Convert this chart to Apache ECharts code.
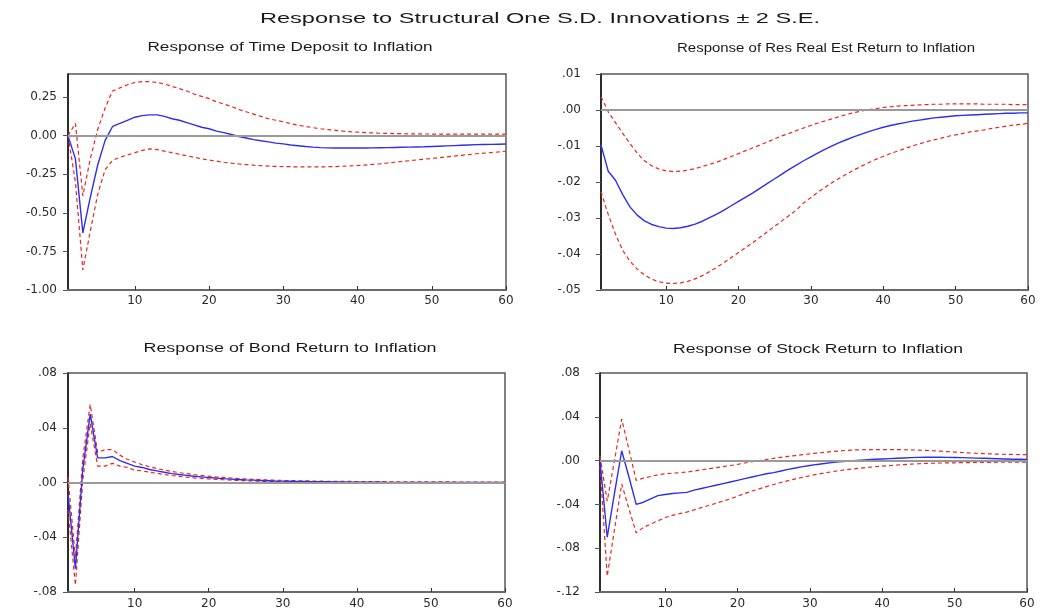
<!DOCTYPE html>
<html>
<head>
<meta charset="utf-8">
<script src="https://cdn.jsdelivr.net/npm/echarts@6/dist/echarts.min.js"></script>
<style>
  html, body { margin: 0; padding: 0; background: #ffffff; }
  #chart { width: 1054px; height: 615px; }
</style>
</head>
<body>
<div id="chart"></div>
<script>
// Impulse responses to a one S.D. inflation shock, periods 1..60, with +/- 2 S.E. bands

const periods = Array.from({ length: 60 }, (_, i) => i + 1);
const xTicks = [10, 20, 30, 40, 50, 60];

// Time Deposit
const tdResp = [0.00, -0.15, -0.63, -0.40, -0.19, -0.03, 0.06, 0.08, 0.10, 0.12,
  0.13, 0.135, 0.135, 0.125, 0.11, 0.10, 0.085, 0.07, 0.055, 0.045,
  0.03, 0.02, 0.008, -0.005, -0.015, -0.025, -0.033, -0.04, -0.048, -0.053,
  -0.06, -0.065, -0.07, -0.074, -0.077, -0.079, -0.08, -0.08, -0.08, -0.08,
  -0.08, -0.079, -0.078, -0.077, -0.076, -0.075, -0.074, -0.073, -0.072, -0.07,
  -0.068, -0.066, -0.064, -0.062, -0.06, -0.058, -0.057, -0.056, -0.055, -0.054];
const tdUpper = [0.00, 0.08, -0.39, -0.15, 0.04, 0.18, 0.29, 0.31, 0.33, 0.345,
  0.35, 0.35, 0.345, 0.335, 0.32, 0.305, 0.29, 0.27, 0.255, 0.24,
  0.22, 0.205, 0.19, 0.17, 0.155, 0.14, 0.125, 0.11, 0.10, 0.09,
  0.078, 0.068, 0.06, 0.052, 0.045, 0.04, 0.035, 0.03, 0.026, 0.023,
  0.02, 0.018, 0.016, 0.015, 0.014, 0.013, 0.012, 0.012, 0.011, 0.011,
  0.01, 0.01, 0.01, 0.01, 0.01, 0.01, 0.01, 0.01, 0.01, 0.01];
const tdLower = [0.00, -0.30, -0.87, -0.62, -0.38, -0.22, -0.16, -0.14, -0.125, -0.11,
  -0.095, -0.085, -0.09, -0.10, -0.11, -0.12, -0.13, -0.14, -0.15, -0.158,
  -0.165, -0.172, -0.178, -0.183, -0.187, -0.191, -0.194, -0.197, -0.199, -0.20,
  -0.201, -0.202, -0.202, -0.202, -0.202, -0.201, -0.20, -0.198, -0.196, -0.193,
  -0.19, -0.186, -0.182, -0.177, -0.172, -0.167, -0.162, -0.157, -0.152, -0.147,
  -0.142, -0.137, -0.132, -0.127, -0.122, -0.117, -0.113, -0.109, -0.105, -0.10];
const tdTicks = [-1.00, -0.75, -0.50, -0.25, 0.00, 0.25];

// Residential Real Estate Return
const reResp = [-0.0097, -0.0170, -0.0195, -0.0235, -0.0269, -0.0292, -0.0308, -0.0318, -0.0324, -0.0328,
  -0.0329, -0.0327, -0.0323, -0.0317, -0.0309, -0.0299, -0.0289, -0.0278, -0.0266, -0.0254,
  -0.0242, -0.0230, -0.0217, -0.0204, -0.0191, -0.0178, -0.0165, -0.0153, -0.0141, -0.0130,
  -0.0119, -0.0109, -0.0099, -0.0090, -0.0082, -0.0074, -0.0067, -0.0060, -0.0054, -0.0048,
  -0.0043, -0.0039, -0.0035, -0.0031, -0.0028, -0.0025, -0.0022, -0.0020, -0.0018, -0.0016,
  -0.0015, -0.0014, -0.0013, -0.0012, -0.0011, -0.0010, -0.0009, -0.0009, -0.0008, -0.0008];
const reUpper = [0.0037, -0.0005, -0.0035, -0.0065, -0.0093, -0.0120, -0.0141, -0.0155, -0.0164, -0.0169,
  -0.0171, -0.0170, -0.0167, -0.0163, -0.0157, -0.0151, -0.0145, -0.0137, -0.0129, -0.0121,
  -0.0113, -0.0105, -0.0097, -0.0089, -0.0080, -0.0072, -0.0065, -0.0057, -0.0050, -0.0043,
  -0.0036, -0.0030, -0.0024, -0.0018, -0.0012, -0.0007, -0.0003, 0.0001, 0.0004, 0.0007,
  0.0009, 0.0011, 0.0012, 0.0013, 0.0014, 0.0015, 0.0016, 0.0016, 0.0017, 0.0017,
  0.0017, 0.0017, 0.0017, 0.0016, 0.0016, 0.0016, 0.0016, 0.0015, 0.0015, 0.0015];
const reLower = [-0.0227, -0.0290, -0.0345, -0.0390, -0.0420, -0.0442, -0.0458, -0.0470, -0.0477, -0.0481,
  -0.0482, -0.0480, -0.0476, -0.0469, -0.0460, -0.0449, -0.0437, -0.0424, -0.0410, -0.0396,
  -0.0382, -0.0368, -0.0353, -0.0338, -0.0323, -0.0308, -0.0293, -0.0278, -0.0258, -0.0243,
  -0.0228, -0.0214, -0.0201, -0.0189, -0.0177, -0.0166, -0.0156, -0.0146, -0.0137, -0.0129,
  -0.0121, -0.0114, -0.0107, -0.0100, -0.0094, -0.0088, -0.0083, -0.0078, -0.0073, -0.0069,
  -0.0065, -0.0061, -0.0058, -0.0055, -0.0051, -0.0048, -0.0045, -0.0042, -0.0040, -0.0037];
const reTicks = [-0.05, -0.04, -0.03, -0.02, -0.01, 0.00, 0.01];

// Bond Return
const bondResp = [-0.008, -0.063, 0.010, 0.050, 0.018, 0.018, 0.019, 0.016, 0.014, 0.012,
  0.011, 0.0095, 0.0085, 0.0075, 0.0065, 0.0058, 0.0052, 0.0046, 0.0041, 0.0036,
  0.0032, 0.0028, 0.0025, 0.0022, 0.0019, 0.0017, 0.0015, 0.0013, 0.0011, 0.0010,
  0.0009, 0.0008, 0.0007, 0.0006, 0.0005, 0.0005, 0.0004, 0.0004, 0.0003, 0.0003,
  0.0002, 0.0002, 0.0002, 0.0001, 0.0001, 0.0001, 0.0001, 0.0001, 0.0001, 0.0000,
  0.0000, 0.0000, 0.0000, 0.0000, 0.0000, 0.0000, 0.0000, 0.0000, 0.0000, 0.0000];
const bondUpper = [0.004, -0.055, 0.018, 0.057, 0.022, 0.024, 0.024, 0.020, 0.017, 0.015,
  0.013, 0.0115, 0.0102, 0.0091, 0.0081, 0.0072, 0.0065, 0.0058, 0.0052, 0.0046,
  0.0041, 0.0037, 0.0033, 0.0029, 0.0026, 0.0023, 0.0021, 0.0019, 0.0017, 0.0015,
  0.0014, 0.0013, 0.0012, 0.0011, 0.0010, 0.0009, 0.0009, 0.0008, 0.0008, 0.0007,
  0.0007, 0.0006, 0.0006, 0.0006, 0.0005, 0.0005, 0.0005, 0.0005, 0.0004, 0.0004,
  0.0004, 0.0004, 0.0004, 0.0003, 0.0003, 0.0003, 0.0003, 0.0003, 0.0003, 0.0003];
const bondLower = [-0.020, -0.075, 0.002, 0.043, 0.012, 0.012, 0.014, 0.012, 0.011, 0.009,
  0.0085, 0.0075, 0.0067, 0.0059, 0.0051, 0.0045, 0.0039, 0.0034, 0.0030, 0.0026,
  0.0023, 0.0020, 0.0017, 0.0015, 0.0013, 0.0011, 0.0009, 0.0008, 0.0006, 0.0005,
  0.0004, 0.0003, 0.0002, 0.0001, 0.0000, -0.0001, -0.0001, -0.0002, -0.0002, -0.0002,
  -0.0002, -0.0003, -0.0003, -0.0003, -0.0003, -0.0003, -0.0003, -0.0003, -0.0003, -0.0003,
  -0.0003, -0.0003, -0.0003, -0.0003, -0.0003, -0.0003, -0.0003, -0.0003, -0.0003, -0.0003];
const bondTicks = [-0.08, -0.04, 0.00, 0.04, 0.08];

// Stock Return
const stockResp = [0.000, -0.070, -0.030, 0.009, -0.015, -0.040, -0.038, -0.035, -0.032, -0.031,
  -0.030, -0.0295, -0.029, -0.027, -0.0255, -0.024, -0.0225, -0.021, -0.0195, -0.018,
  -0.0165, -0.015, -0.0135, -0.012, -0.011, -0.0095, -0.008, -0.0068, -0.0055, -0.0045,
  -0.0035, -0.0027, -0.0018, -0.0012, -0.0006, 0.0000, 0.0004, 0.0008, 0.0012, 0.0015,
  0.0018, 0.0021, 0.0024, 0.0027, 0.0029, 0.0030, 0.0030, 0.0030, 0.0029, 0.0028,
  0.0027, 0.0025, 0.0023, 0.0021, 0.0019, 0.0017, 0.0015, 0.0013, 0.0012, 0.0010];
const stockUpper = [0.004, -0.037, 0.000, 0.038, 0.010, -0.018, -0.016, -0.0145, -0.013, -0.012,
  -0.0115, -0.011, -0.0105, -0.0095, -0.0085, -0.0075, -0.0065, -0.0055, -0.0045, -0.0035,
  -0.0022, -0.0010, 0.0000, 0.0010, 0.0020, 0.0030, 0.0038, 0.0046, 0.0054, 0.0062,
  0.0069, 0.0076, 0.0082, 0.0088, 0.0093, 0.0097, 0.0099, 0.0100, 0.0100, 0.0100,
  0.0100, 0.0100, 0.0099, 0.0098, 0.0096, 0.0093, 0.0090, 0.0086, 0.0082, 0.0078,
  0.0074, 0.0070, 0.0067, 0.0064, 0.0061, 0.0059, 0.0057, 0.0056, 0.0055, 0.0054];
const stockLower = [-0.005, -0.1055, -0.063, -0.0214, -0.044, -0.066, -0.061, -0.058, -0.055, -0.052,
  -0.050, -0.0485, -0.047, -0.045, -0.043, -0.041, -0.039, -0.037, -0.035, -0.0325,
  -0.030, -0.0278, -0.0258, -0.0238, -0.0218, -0.0200, -0.0183, -0.0167, -0.0152, -0.0138,
  -0.0125, -0.0113, -0.0102, -0.0092, -0.0083, -0.0076, -0.0069, -0.0062, -0.0056, -0.0050,
  -0.0045, -0.0040, -0.0036, -0.0032, -0.0029, -0.0026, -0.0024, -0.0022, -0.0021, -0.0020,
  -0.0019, -0.0018, -0.0017, -0.0016, -0.0016, -0.0015, -0.0015, -0.0015, -0.0015, -0.0015];
const stockTicks = [-0.12, -0.08, -0.04, 0.00, 0.04, 0.08];

const mainTitle = 'Response to Structural One S.D. Innovations \u00b1 2 S.E.';
const panelTitles = [
  'Response of Time Deposit to Inflation',
  'Response of Res Real Est Return to Inflation',
  'Response of Bond Return to Inflation',
  'Response of Stock Return to Inflation'
];

// ---- layout & styling ----
const BLUE = '#2f2fe8';
const RED = '#e8281f';
const FONT = '"Liberation Sans", Arial, sans-serif';
const TICK_FONT = '"DejaVu Sans", sans-serif';

const panels = [
  { resp: tdResp, up: tdUpper, lo: tdLower, ticks: tdTicks, min: -1.0, max: 0.4,
    fmt: v => v.toFixed(2), grid: { left: 68, top: 74, width: 438, height: 216 }, lblMargin: 11, xMargin: 5 },
  { resp: reResp, up: reUpper, lo: reLower, ticks: reTicks, min: -0.05, max: 0.01,
    fmt: shortFmt, grid: { left: 601, top: 74, width: 427, height: 216 }, lblMargin: 20, xMargin: 5 },
  { resp: bondResp, up: bondUpper, lo: bondLower, ticks: bondTicks, min: -0.08, max: 0.08,
    fmt: shortFmt, grid: { left: 68, top: 373, width: 437, height: 219 }, lblMargin: 11, xMargin: 6 },
  { resp: stockResp, up: stockUpper, lo: stockLower, ticks: stockTicks, min: -0.12, max: 0.08,
    fmt: shortFmt, grid: { left: 600, top: 373, width: 427, height: 219 }, lblMargin: 20, xMargin: 6 }
];

function shortFmt(v) {
  const s = Math.abs(v).toFixed(2).replace(/^0/, '');
  return (v < -1e-9 ? '-' : '') + s;
}

// titles are stretched horizontally to the given width
const titleSpecs = [
  { text: mainTitle, cx: 540, cy: 19, w: 560, font: '14px ' + FONT },
  { text: panelTitles[0], cx: 290, cy: 48, w: 285, font: '12px ' + FONT },
  { text: panelTitles[1], cx: 826, cy: 49, w: 298, font: '12px ' + FONT },
  { text: panelTitles[2], cx: 290, cy: 349, w: 293, font: '12px ' + FONT },
  { text: panelTitles[3], cx: 818, cy: 350, w: 290, font: '12px ' + FONT }
];
const measureCtx = document.createElement('canvas').getContext('2d');
const graphic = titleSpecs.map(t => {
  measureCtx.font = t.font;
  const natural = measureCtx.measureText(t.text).width || t.w;
  return {
    type: 'text', x: t.cx, y: t.cy, scaleX: t.w / natural, silent: true,
    style: { text: t.text, font: t.font, fill: '#1a1a1a', align: 'center', verticalAlign: 'middle' }
  };
});

const grid = [], xAxis = [], yAxis = [], series = [];
panels.forEach((p, i) => {
  grid.push(Object.assign({ show: true, borderColor: '#5a5a5a', borderWidth: 1.5, backgroundColor: '#fff' }, p.grid));
  xAxis.push({
    type: 'value', gridIndex: i, min: 1, max: 60,
    axisLine: { show: true, onZero: false, lineStyle: { color: '#6a6a6a', width: 2 } },
    axisTick: { show: true, inside: true, length: 4, customValues: xTicks, lineStyle: { color: '#333' } },
    axisLabel: { customValues: xTicks, margin: p.xMargin, color: '#2a2a2a', fontFamily: TICK_FONT, fontSize: 12 },
    splitLine: { show: false }
  });
  yAxis.push({
    type: 'value', gridIndex: i, min: p.min, max: p.max,
    axisLine: { show: true, onZero: false, lineStyle: { color: '#111', width: 1.5 } },
    axisTick: { show: true, inside: false, length: 5, customValues: p.ticks, lineStyle: { color: '#555' } },
    axisLabel: { customValues: p.ticks, margin: p.lblMargin, formatter: p.fmt, color: '#2a2a2a',
      fontFamily: TICK_FONT, fontSize: 12 },
    splitLine: { show: false }
  });
  const pts = arr => periods.map((t, k) => [t, arr[k]]);
  const band = (name, arr) => ({
    name, type: 'line', xAxisIndex: i, yAxisIndex: i, data: pts(arr), showSymbol: false, silent: true,
    lineStyle: { color: RED, width: 1.2, type: [4, 3] }, z: 3
  });
  series.push({
    name: 'zero', type: 'line', xAxisIndex: i, yAxisIndex: i, data: [], silent: true,
    markLine: { silent: true, symbol: 'none', label: { show: false },
      lineStyle: { color: '#9a9a9a', width: 2, type: 'solid' }, data: [{ yAxis: 0 }] }, z: 1
  });
  series.push(band('+2 S.E.', p.up));
  series.push(band('-2 S.E.', p.lo));
  series.push({
    name: 'Response', type: 'line', xAxisIndex: i, yAxisIndex: i, data: pts(p.resp), showSymbol: false, silent: true,
    lineStyle: { color: BLUE, width: 1.4 }, z: 4
  });
});

const chart = echarts.init(document.getElementById('chart'), null, { renderer: 'canvas' });
chart.setOption({
  animation: false,
  backgroundColor: '#ffffff',
  graphic, grid, xAxis, yAxis, series
});
</script>
</body>
</html>
